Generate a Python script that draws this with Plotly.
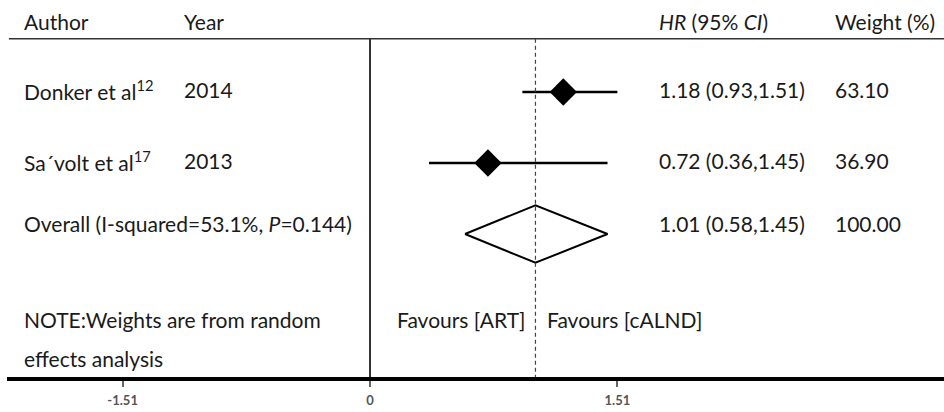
import plotly.graph_objects as go

# ---- data ----
authors = ["Donker et al<sup>12</sup>", "Sa´volt et al<sup>17</sup>"]
years = ["2014", "2013"]
hr = [1.18, 0.72]
ci_lo = [0.93, 0.36]
ci_hi = [1.51, 1.45]
weights = ["63.10", "36.90"]
overall_label = "Overall (I-squared=53.1%, <i>P</i>=0.144)"
overall_hr = 1.01
overall_lo = 0.58
overall_hi = 1.45
overall_weight = "100.00"
tick_vals = [-1.51, 0, 1.51]
tick_text = ["-1.51", "0", "1.51"]
headers = ["Author", "Year", "<i>HR</i> (95% <i>CI</i>)", "Weight (%)"]

FONT = "Lato"
FS = 21
TXT = "#1a1a1a"
rows = [1, 2]
overall_row = 3

fig = go.Figure()

# CI lines
for r, lo, hi in zip(rows, ci_lo, ci_hi):
    fig.add_trace(go.Scatter(x=[lo, hi], y=[r, r], mode="lines",
                             line=dict(color="black", width=2.5),
                             showlegend=False, hoverinfo="skip"))
# point estimates
fig.add_trace(go.Scatter(x=hr, y=rows, mode="markers",
                         marker=dict(symbol="diamond", size=21, color="black"),
                         showlegend=False))
# overall diamond
h = 0.405
fig.add_trace(go.Scatter(
    x=[overall_lo, overall_hr, overall_hi, overall_hr, overall_lo],
    y=[overall_row, overall_row - h, overall_row, overall_row + h, overall_row],
    mode="lines", line=dict(color="black", width=2), fill="toself",
    fillcolor="white", showlegend=False))

ybot = 5.014
ytop = -0.296
line_y = 0.25

shapes = [
    dict(type="line", xref="paper", yref="y", x0=0.002, x1=1, y0=line_y, y1=line_y,
         line=dict(color="#333", width=1.5)),
    dict(type="line", xref="x", yref="y", x0=0, x1=0, y0=line_y, y1=ybot,
         line=dict(color="#333", width=2)),
    dict(type="line", xref="x", yref="y", x0=overall_hr, x1=overall_hr, y0=line_y, y1=ybot,
         line=dict(color="#444", width=1.2, dash="4px,3px")),
]

col_x = [0.016, 0.1868, 0.6937, 0.8815]
ann = []
def add_text(x, y, text):
    ann.append(dict(x=x, y=y, xref="paper", yref="y", text=text, showarrow=False,
                    xanchor="left", yanchor="middle",
                    font=dict(family=FONT, size=FS, color=TXT)))

for cx, t in zip(col_x, headers):
    add_text(cx, 0, t)
for r, a, yr, v, lo, hi, w in zip(rows, authors, years, hr, ci_lo, ci_hi, weights):
    add_text(col_x[0], r - 0.03, a)
    add_text(col_x[1], r - 0.03, yr)
    add_text(col_x[2], r - 0.03, f"{v:.2f} ({lo:.2f},{hi:.2f})")
    add_text(col_x[3], r - 0.03, w)
add_text(col_x[0], overall_row - 0.15, overall_label)
add_text(col_x[2], overall_row - 0.15, f"{overall_hr:.2f} ({overall_lo:.2f},{overall_hi:.2f})")
add_text(col_x[3], overall_row - 0.15, overall_weight)
add_text(col_x[0], 4.21, "NOTE:Weights are from random")
add_text(col_x[0], 4.75, "effects analysis")
add_text(0.414, 4.21, "Favours [ART]")
add_text(0.574, 4.21, "Favours [cALND]")

fig.update_layout(
    width=944, height=412,
    margin=dict(l=7, r=0, t=0, b=35),
    paper_bgcolor="white", plot_bgcolor="white",
    shapes=shapes, annotations=ann, showlegend=False,
    xaxis=dict(range=[-2.216, 3.504], tickvals=tick_vals, ticktext=tick_text,
               showgrid=False, zeroline=False, showline=True, linecolor="black",
               linewidth=3.5, ticks="outside", ticklen=6, tickcolor="#666",
               tickwidth=1.5, ticklabelstandoff=3,
               tickfont=dict(family=FONT, size=13, color="#555", weight="bold"),
               fixedrange=True),
    yaxis=dict(range=[ybot, ytop], visible=False, showgrid=False, zeroline=False,
               fixedrange=True),
)

fig.write_html("out.html", config={"displayModeBar": False},
               post_script="document.body.style.margin='0px';document.body.style.overflow='hidden';")
